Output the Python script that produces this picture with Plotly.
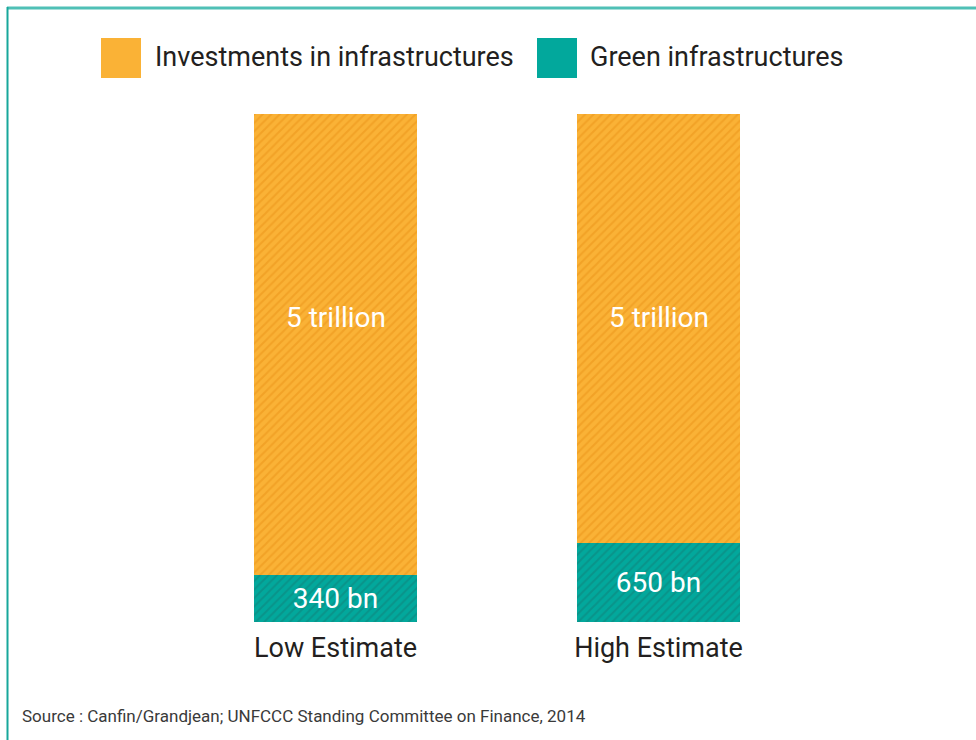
import plotly.graph_objects as go

# ---- data (the two bars have the same total height) ----
categories = ["Low Estimate", "High Estimate"]
total_value = 5000                      # "5 trillion" (bn)
green_drawn = [463, 778]                # drawn height of the green segment (bn)
green_labels = ["340 bn", "650 bn"]
orange_drawn = [total_value - g for g in green_drawn]
orange_labels = ["5 trillion", "5 trillion"]
series_names = ["Investments in infrastructures", "Green infrastructures"]
source_text = "Source : Canfin/Grandjean; UNFCCC Standing Committee on Finance, 2014"

FONT = "Roboto, Liberation Sans Narrow, sans-serif"
W, H = 976, 740
ORANGE, ORANGE_LINE = "#FAB236", "#F09E22"
TEAL, TEAL_LINE = "#02A89C", "#0B8E86"

fig = go.Figure()
fig.add_trace(go.Bar(
    x=categories, y=green_drawn, name=series_names[1],
    text=green_labels, textposition="inside", insidetextanchor="middle",
    textfont=dict(family=FONT, size=28, color="white"),
    marker=dict(color=TEAL, line=dict(width=0),
                pattern=dict(shape="/", fgcolor=TEAL_LINE, bgcolor=TEAL, size=6, solidity=0.35, fgopacity=0.8)),
    width=0.505, showlegend=False, hoverinfo="skip",
))
fig.add_trace(go.Bar(
    x=categories, y=orange_drawn, name=series_names[0],
    marker=dict(color=ORANGE, line=dict(width=0),
                pattern=dict(shape="/", fgcolor=ORANGE_LINE, bgcolor=ORANGE, size=6, solidity=0.35, fgopacity=0.8)),
    width=0.505, showlegend=False, hoverinfo="skip",
))

def px_x(p):
    return p / W

def px_y(p):
    return 1 - p / H

shapes = [
    # frame lines
    dict(type="line", xref="paper", yref="paper", x0=px_x(7), x1=1, y0=px_y(8), y1=px_y(8),
         line=dict(color="#4FC0B6", width=3)),
    dict(type="line", xref="paper", yref="paper", x0=px_x(7.5), x1=px_x(7.5), y0=px_y(7), y1=0,
         line=dict(color="#17A79B", width=2)),
    # legend swatches
    dict(type="rect", xref="paper", yref="paper", x0=px_x(101), x1=px_x(141), y0=px_y(78), y1=px_y(38),
         fillcolor=ORANGE, line=dict(width=0)),
    dict(type="rect", xref="paper", yref="paper", x0=px_x(537), x1=px_x(577), y0=px_y(78), y1=px_y(38),
         fillcolor=TEAL, line=dict(width=0)),
]

annotations = [
    dict(xref="paper", yref="paper", x=px_x(153), y=px_y(57), xanchor="left", yanchor="middle",
         text=series_names[0], showarrow=False, font=dict(family=FONT, size=27, color="#231F20")),
    dict(xref="paper", yref="paper", x=px_x(588), y=px_y(57), xanchor="left", yanchor="middle",
         text=series_names[1], showarrow=False, font=dict(family=FONT, size=27, color="#231F20")),
    dict(xref="paper", yref="paper", x=px_x(20), y=px_y(716), xanchor="left", yanchor="middle",
         text=source_text, showarrow=False, font=dict(family=FONT, size=17, color="#3A3A3A")),
]
# orange segment labels, placed in the upper part of each orange segment
for cat, lab in zip(categories, orange_labels):
    annotations.append(dict(x=cat, y=total_value * 0.6, xref="x", yref="y", text=lab, showarrow=False,
                            font=dict(family=FONT, size=28, color="white")))

unit = 323.0
fig.update_layout(
    width=W, height=H, margin=dict(l=0, r=0, t=0, b=0),
    paper_bgcolor="white", plot_bgcolor="white",
    barmode="stack", bargap=0,
    shapes=shapes, annotations=annotations,
    xaxis=dict(range=[-335.5 / unit, (W - 335.5) / unit], showgrid=False, zeroline=False,
               showline=False, ticks="", tickfont=dict(family=FONT, size=27, color="#231F20"),
               ticklabelstandoff=7, domain=[0, 1]),
    yaxis=dict(range=[0, total_value], domain=[px_y(622), px_y(114)], visible=False),
    font=dict(family=FONT),
)

fig.write_html("out.html")
